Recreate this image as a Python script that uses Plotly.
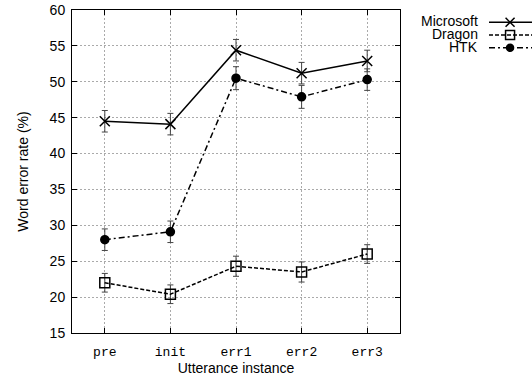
import plotly.graph_objects as go

categories = ["pre", "init", "err1", "err2", "err3"]
series_names = ["Microsoft", "Dragon", "HTK"]
microsoft = [44.5, 44.1, 54.4, 51.2, 52.9]
microsoft_err = [1.5, 1.5, 1.5, 1.5, 1.5]
dragon = [22.0, 20.4, 24.3, 23.5, 26.0]
dragon_err = [1.3, 1.3, 1.4, 1.4, 1.3]
htk = [28.0, 29.1, 50.5, 47.9, 50.3]
htk_err = [1.5, 1.5, 1.6, 1.6, 1.5]
y_ticks = [15, 20, 25, 30, 35, 40, 45, 50, 55, 60]

W, H = 532, 383
ML, MR, MT, MB = 72, 0, 10, 50
plot_w = W - ML - MR
plot_h = H - MT - MB
main_right = 400

FONT = "Liberation Sans, Arial, Helvetica"

styles = {
    "Microsoft": dict(dash="solid", symbol="x-thin-open", size=10),
    "Dragon": dict(dash="4px,2px", symbol="square-open", size=10),
    "HTK": dict(dash="6px,3px,2px,3px", symbol="circle", size=8),
}
data = {"Microsoft": (microsoft, microsoft_err), "Dragon": (dragon, dragon_err), "HTK": (htk, htk_err)}

fig = go.Figure()
for name in series_names:
    vals, errs = data[name]
    st = styles[name]
    fig.add_trace(go.Scatter(
        x=list(range(len(categories))), y=vals, mode="lines+markers", name=name,
        line=dict(color="black", width=1.5, dash=st["dash"]),
        marker=dict(symbol=st["symbol"], size=st["size"], color="black",
                    line=dict(color="black", width=1.5)),
        error_y=dict(type="data", array=errs, visible=True, color="#444", thickness=1, width=3),
        showlegend=False, xaxis="x", yaxis="y",
    ))

# custom legend (text left, sample right)
for r, name in enumerate(series_names):
    st = styles[name]
    fig.add_trace(go.Scatter(x=[0, 1], y=[r, r], mode="lines",
                             line=dict(color="black", width=1.5, dash=st["dash"]),
                             showlegend=False, hoverinfo="skip", xaxis="x2", yaxis="y2"))
    fig.add_trace(go.Scatter(x=[0.49], y=[r], mode="markers",
                             marker=dict(symbol=st["symbol"], size=st["size"] - 1, color="black",
                                         line=dict(color="black", width=1.5)),
                             showlegend=False, hoverinfo="skip", xaxis="x2", yaxis="y2"))
    fig.add_annotation(x=0, y=r, xref="x2", yref="y2", text=name, showarrow=False,
                       xanchor="right", xshift=-9, yshift=1,
                       font=dict(family=FONT, size=14, color="black"))

axis_common = dict(showline=True, linecolor="black", linewidth=1, mirror="ticks",
                   ticks="inside", ticklen=5, tickcolor="black",
                   showgrid=True, gridcolor="#aaa", griddash="2px,2px", gridwidth=1, zeroline=False)

row_top, row_bottom = 16, 54  # legend block (px from top)
fig.update_layout(
    width=W, height=H, margin=dict(l=ML, r=MR, t=MT, b=MB),
    plot_bgcolor="white", paper_bgcolor="white",
    xaxis=dict(domain=[0, (main_right - ML) / plot_w], range=[-0.5, 4.5],
               tickmode="array", tickvals=list(range(len(categories))), ticktext=categories,
               tickfont=dict(family="Liberation Mono, Courier New", size=13, color="black"),
               ticklabelstandoff=6,
               title=dict(text="Utterance instance", font=dict(family=FONT, size=14, color="black"), standoff=2),
               **axis_common),
    yaxis=dict(range=[15, 60], tickvals=y_ticks,
               tickfont=dict(family=FONT, size=14, color="black"),
               ticklabelstandoff=3,
               title=dict(text="Word error rate (%)", font=dict(family=FONT, size=14, color="black"), standoff=17),
               **axis_common),
    xaxis2=dict(domain=[(489 - ML) / plot_w, 1.0], range=[0, 1], anchor="y2",
                visible=False, fixedrange=True),
    yaxis2=dict(domain=[1 - (row_bottom - MT) / plot_h, 1 - (row_top - MT) / plot_h],
                range=[len(series_names) - 0.5, -0.5], anchor="x2", visible=False, fixedrange=True),
)

fig.write_html("out.html", config={"displayModeBar": False},
               post_script="document.body.style.margin='0px';")
